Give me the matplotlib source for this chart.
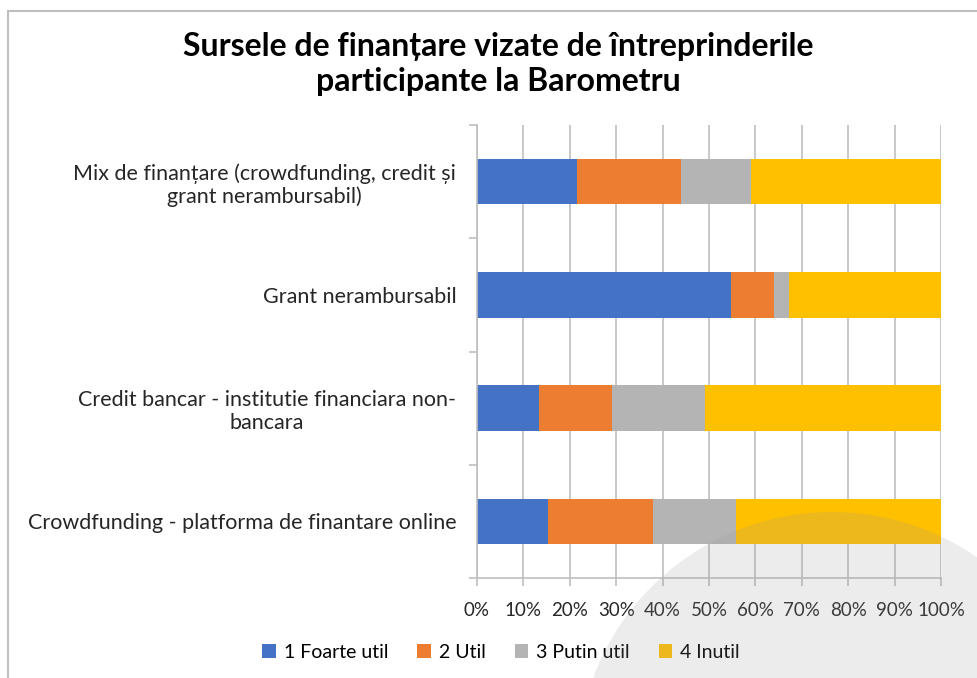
import numpy as np
import matplotlib
matplotlib.use("Agg")
import matplotlib.pyplot as plt
from matplotlib.patches import Ellipse, Rectangle

plt.rcParams["font.family"] = ["Lato", "DejaVu Sans"]

categories = [
    "Crowdfunding - platforma de finantare online",
    "Credit bancar - institutie financiara non-\nbancara",
    "Grant nerambursabil",
    "Mix de finanțare (crowdfunding, credit și\ngrant nerambursabil)",
]
series_names = ["1 Foarte util", "2 Util", "3 Putin util", "4 Inutil"]
foarte_util = [15.3, 13.4, 54.7, 21.6]
util = [22.6, 15.8, 9.3, 22.4]
putin_util = [18.0, 20.0, 3.2, 15.1]
inutil = [44.1, 50.8, 32.8, 40.9]
colors = ["#4472C4", "#ED7D31", "#B4B4B4", "#FFC000"]

W, H = 977, 678
fig = plt.figure(figsize=(W / 100, H / 100), dpi=100)
ax = fig.add_axes([477 / W, 1 - 578 / H, (941 - 477) / W, (578 - 125) / H])

y = np.arange(len(categories))
left = np.zeros(len(categories))
for vals, name, c in zip([foarte_util, util, putin_util, inutil], series_names, colors):
    vals = np.array(vals)
    ax.barh(y, vals, left=left, height=0.4, color=c, label=name, zorder=2)
    left += vals

ax.set_xlim(0, 100)
ax.set_ylim(-0.5, len(categories) - 0.5)
ax.set_xticks(np.arange(0, 101, 10))
ax.set_xticklabels([f"{v}%" for v in range(0, 101, 10)], fontsize=13.5, color="#262626")
ax.set_yticks(y)
ax.set_yticklabels(categories, fontsize=15.5, color="#262626", linespacing=1.15)
for lbl in ax.get_yticklabels():
    lbl.set_multialignment("center")
ax.set_yticks(np.arange(-0.5, len(categories), 1), minor=True)
ax.tick_params(axis="y", which="major", length=0, pad=15)
ax.tick_params(axis="y", which="minor", length=6, color="#BFBFBF", width=1.2)
ax.tick_params(axis="x", length=6, color="#BFBFBF", width=1.2, pad=11)
ax.grid(axis="x", color="#BFBFBF", linewidth=1.2, zorder=0)
for s in ["top", "right"]:
    ax.spines[s].set_visible(False)
for s in ["left", "bottom"]:
    ax.spines[s].set_color("#BFBFBF")
    ax.spines[s].set_linewidth(1.2)

fig.text(498 / W, 1 - 64 / H, "Sursele de finanțare vizate de întreprinderile\nparticipante la Barometru",
         ha="center", va="center", fontsize=23, fontweight="bold", linespacing=1.25)

fig.legend(loc="center", bbox_to_anchor=(501 / W, 1 - 652 / H), ncol=4, frameon=False,
           fontsize=14, handlelength=0.7, handleheight=0.7, columnspacing=1.5, handletextpad=0.4)

# chart border and decorative circle
fig.patches.append(Rectangle((8 / W, -0.1), 1.2, 1 - 11 / H + 0.1, transform=fig.transFigure,
                             fill=False, edgecolor="#BFBFBF", linewidth=1.5))
fig.patches.append(Ellipse((832 / W, 1 - 767 / H), 510 / W, 510 / H, transform=fig.transFigure,
                           facecolor="#999999", edgecolor="none", alpha=0.18, zorder=10))

fig.savefig("out.png", dpi=100)
